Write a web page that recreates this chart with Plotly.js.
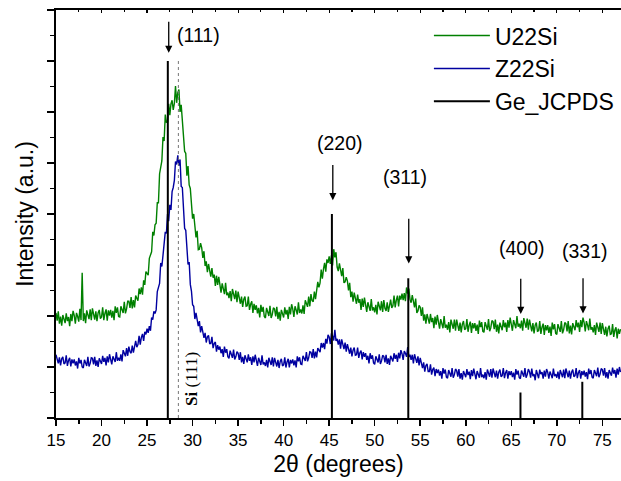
<!DOCTYPE html>
<html>
<head>
<meta charset="utf-8">
<script src="https://cdn.plot.ly/plotly-3.0.1.min.js"></script>
<style>html,body{margin:0;padding:0;background:#fff;}#chart{width:621px;height:481px;}</style>
</head>
<body>
<div id="chart"></div>
<script>
// Scan: 2-theta from 15 to 77 degrees, step 0.125 degrees
const scanStart = 15;
const scanStep = 0.125;

// U22Si intensity (a.u., offset), one row per degree (15 ... 76) + 77
const u22Si = [
2.06,1.91,2.09,1.85,1.99,1.81,2.02,1.92,
1.86,2.05,1.90,1.98,1.80,2.04,1.90,2.10,
2.01,1.85,2.06,1.99,1.89,2.14,1.92,2.85,
1.90,2.05,1.86,2.11,2.02,1.94,2.13,1.92,
2.15,1.99,1.93,2.09,1.90,2.06,2.12,1.95,
1.98,2.17,1.92,2.05,2.13,1.91,2.11,2.01,
2.12,1.97,2.10,1.92,2.19,2.06,2.17,1.99,
1.98,2.19,2.13,2.06,2.28,2.05,2.14,2.29,
2.29,2.16,2.37,2.15,2.31,2.17,2.40,2.34,
2.30,2.54,2.43,2.56,2.42,2.70,2.61,2.87,
2.84,2.80,3.13,3.21,3.26,3.65,3.58,3.79,
3.82,4.22,4.22,4.79,4.93,5.04,5.51,5.43,
5.95,5.80,5.81,6.16,5.94,6.16,6.23,6.04,
6.17,6.51,6.18,6.38,6.44,6.00,6.14,5.79,
5.63,5.23,5.19,4.75,4.94,4.57,4.50,4.07,
3.91,4.00,3.76,3.54,3.67,3.30,3.31,3.43,
3.34,3.14,3.27,2.98,3.07,2.86,3.02,2.88,
2.77,2.94,2.75,2.81,2.59,2.79,2.61,2.77,
2.64,2.46,2.64,2.55,2.43,2.65,2.41,2.46,
2.35,2.49,2.29,2.53,2.42,2.33,2.50,2.27,
2.48,2.31,2.24,2.38,2.18,2.33,2.38,2.19,
2.20,2.38,2.12,2.23,2.29,2.06,2.24,2.12,
2.21,2.05,2.16,1.97,2.22,2.08,2.18,1.99,
1.96,2.16,2.08,2.00,2.20,1.96,2.03,2.16,
2.14,1.99,2.18,1.94,2.08,1.91,2.12,2.03,
1.97,2.17,2.03,2.12,1.94,2.18,2.03,2.23,
2.14,1.98,2.19,2.12,2.03,2.27,2.06,2.13,
2.05,2.21,2.04,2.31,2.24,2.18,2.38,2.19,
2.43,2.30,2.28,2.48,2.33,2.54,2.67,2.56,
2.65,2.91,2.73,2.92,3.04,2.87,3.11,3.04,
3.17,3.02,3.19,2.99,3.31,3.15,3.25,2.96,
2.88,3.03,2.91,2.78,2.94,2.65,2.67,2.76,
2.69,2.50,2.65,2.37,2.48,2.28,2.46,2.33,
2.24,2.42,2.26,2.33,2.12,2.34,2.18,2.36,
2.24,2.08,2.27,2.20,2.10,2.33,2.11,2.17,
2.07,2.22,2.03,2.28,2.19,2.11,2.29,2.08,
2.31,2.15,2.10,2.27,2.08,2.25,2.32,2.16,
2.20,2.40,2.17,2.31,2.40,2.19,2.40,2.32,
2.44,2.31,2.45,2.29,2.56,2.44,2.54,2.33,
2.26,2.41,2.29,2.17,2.34,2.06,2.10,2.21,
2.17,2.00,2.17,1.91,2.03,1.85,2.04,1.93,
1.85,2.04,1.88,1.96,1.76,1.99,1.83,2.02,
1.91,1.75,1.94,1.87,1.76,2.00,1.77,1.83,
1.73,1.88,1.68,1.93,1.83,1.75,1.93,1.71,
1.93,1.77,1.71,1.87,1.68,1.84,1.90,1.73,
1.75,1.94,1.69,1.82,1.89,1.67,1.86,1.76,
1.86,1.71,1.83,1.65,1.91,1.78,1.88,1.70,
1.68,1.88,1.81,1.73,1.94,1.70,1.77,1.91,
1.89,1.74,1.93,1.69,1.83,1.66,1.87,1.78,
1.72,1.92,1.78,1.87,1.69,1.92,1.77,1.97,
1.87,1.71,1.92,1.85,1.76,2.00,1.79,1.85,
1.76,1.91,1.71,1.96,1.86,1.77,1.95,1.73,
1.93,1.77,1.70,1.86,1.66,1.82,1.87,1.70,
1.71,1.90,1.65,1.78,1.85,1.63,1.82,1.72,
1.82,1.67,1.79,1.61,1.87,1.74,1.84,1.66,
1.64,1.84,1.77,1.69,1.90,1.66,1.73,1.87,
1.85,1.70,1.90,1.66,1.81,1.64,1.86,1.77,
1.72,1.92,1.78,1.87,1.69,1.92,1.78,1.97,
1.87,1.70,1.90,1.82,1.72,1.95,1.73,1.78,
1.68,1.82,1.63,1.87,1.78,1.69,1.87,1.65,
1.86,1.70,1.63,1.79,1.60,1.75,1.81,1.64,
1.65,1.84,1.59,1.72,1.78,1.56,1.75,1.65,
1.74];

// Z22Si intensity (a.u., offset), one row per degree (15 ... 76) + 77
const z22Si = [
1.24,1.12,1.07,1.19,1.03,1.16,1.20,1.06,
1.08,1.23,1.02,1.13,1.18,1.01,1.15,1.07,
1.15,1.03,1.11,0.97,1.18,1.07,1.14,1.00,
0.98,1.14,1.09,1.02,1.20,1.01,1.07,1.18,
1.17,1.05,1.20,1.02,1.13,1.00,1.17,1.10,
1.06,1.22,1.10,1.18,1.03,1.21,1.09,1.25,
1.17,1.05,1.21,1.17,1.10,1.29,1.12,1.18,
1.12,1.25,1.11,1.33,1.27,1.21,1.37,1.22,
1.40,1.30,1.27,1.42,1.28,1.44,1.51,1.39,
1.44,1.61,1.44,1.58,1.65,1.51,1.69,1.64,
1.75,1.67,1.80,1.71,1.97,1.93,2.09,2.05,
2.12,2.48,2.56,2.64,3.04,2.97,3.19,3.50,
3.65,3.62,4.00,3.86,4.18,4.08,4.44,4.52,
4.66,5.03,4.97,5.15,4.95,5.07,4.54,4.52,
4.14,3.72,3.68,3.36,3.01,3.06,2.62,2.49,
2.22,2.19,1.94,2.06,1.92,1.80,1.90,1.68,
1.80,1.65,1.57,1.67,1.48,1.59,1.62,1.46,
1.46,1.59,1.37,1.46,1.49,1.30,1.43,1.34,
1.40,1.27,1.35,1.20,1.40,1.28,1.35,1.20,
1.17,1.32,1.26,1.18,1.34,1.15,1.20,1.30,
1.27,1.14,1.29,1.09,1.20,1.06,1.23,1.14,
1.09,1.25,1.12,1.19,1.04,1.21,1.09,1.24,
1.15,1.02,1.18,1.12,1.04,1.23,1.05,1.09,
1.02,1.14,0.99,1.18,1.11,1.04,1.19,1.01,
1.18,1.06,1.01,1.14,0.98,1.11,1.16,1.02,
1.04,1.19,0.99,1.10,1.16,0.99,1.14,1.07,
1.15,1.03,1.13,0.99,1.21,1.11,1.19,1.06,
1.05,1.22,1.18,1.12,1.29,1.11,1.18,1.30,
1.29,1.18,1.35,1.17,1.30,1.19,1.37,1.31,
1.29,1.47,1.38,1.47,1.35,1.55,1.46,1.63,
1.59,1.45,1.66,1.61,1.52,1.73,1.51,1.55,
1.44,1.54,1.36,1.54,1.44,1.35,1.48,1.30,
1.45,1.32,1.26,1.38,1.21,1.33,1.38,1.23,
1.24,1.38,1.18,1.28,1.32,1.15,1.29,1.20,
1.27,1.14,1.22,1.07,1.27,1.16,1.23,1.08,
1.05,1.21,1.16,1.09,1.25,1.06,1.12,1.23,
1.21,1.09,1.24,1.06,1.17,1.04,1.22,1.14,
1.11,1.27,1.16,1.24,1.10,1.28,1.17,1.33,
1.26,1.14,1.31,1.27,1.20,1.39,1.20,1.24,
1.14,1.24,1.07,1.25,1.17,1.08,1.21,1.03,
1.18,1.04,0.98,1.09,0.91,1.03,1.06,0.91,
0.91,1.05,0.85,0.95,0.99,0.82,0.96,0.88,
0.95,0.83,0.92,0.77,0.98,0.87,0.95,0.80,
0.78,0.94,0.89,0.81,0.98,0.79,0.85,0.96,
0.93,0.81,0.96,0.77,0.88,0.75,0.92,0.84,
0.80,0.96,0.84,0.91,0.76,0.94,0.82,0.97,
0.89,0.76,0.92,0.87,0.79,0.98,0.80,0.85,
0.78,0.90,0.75,0.95,0.88,0.81,0.96,0.79,
0.97,0.85,0.80,0.93,0.77,0.90,0.95,0.81,
0.83,0.98,0.78,0.89,0.94,0.77,0.92,0.84,
0.92,0.80,0.89,0.75,0.96,0.85,0.93,0.79,
0.77,0.93,0.88,0.81,0.98,0.79,0.85,0.96,
0.91,0.79,0.97,0.82,0.86,0.74,0.94,0.83,
0.78,0.95,0.86,0.90,0.77,0.93,0.81,0.96,
0.90,0.77,0.91,0.85,0.78,0.97,0.82,0.86,
0.79,0.91,0.76,0.94,0.87,0.80,0.95,0.78,
0.97,0.85,0.80,0.93,0.77,0.90,0.95,0.81,
0.83,0.98,0.78,0.89,0.94,0.77,0.92,0.84,
0.93,0.81,0.90,0.76,0.97,0.86,0.94,0.80,
0.78,0.94,0.89,0.82,0.99,0.80,0.86,0.97,
0.95,0.83,0.98,0.79,0.90,0.77,0.94,0.86,
0.83,0.99,0.87,0.94,0.79,0.97,0.85,1.00,
0.90];

// Ge JCPDS reference lines
const geAngles = [27.28, 45.30, 53.69, 66.01, 72.80];
const geHeights = [7.0, 4.0, 2.74, 0.5, 0.71];
const geLabels = ["(111)", "(220)", "(311)", "(400)", "(331)"];

// Si (111) reference
const siAngle = [28.44];
const siHeight = [7.0];

// Peak label placement (arrow tip / tail, label position)
const arrowTipY = [7.16, 4.27, 3.03, 2.04, 2.05];
const arrowTailY = [7.80, 4.99, 3.935, 2.76, 2.77];
const arrowX = [27.38, 45.40, 53.74, 66.04, 72.88];
const labelX = [28.07, 46.14, 53.33, 66.13, 73.07];
const labelY = [7.51, 5.40, 4.72, 3.33, 3.28];

const FONT = 'Arial, "Liberation Sans", sans-serif';

const stickX = [], stickY = [];
geAngles.forEach((a, i) => { stickX.push(a, a, null); stickY.push(0, geHeights[i], null); });

const traces = [
  {y: u22Si, x0: scanStart, dx: scanStep, type: 'scatter', mode: 'lines', name: 'U22Si',
   line: {color: '#008000', width: 1.4}},
  {y: z22Si, x0: scanStart, dx: scanStep, type: 'scatter', mode: 'lines', name: 'Z22Si',
   line: {color: '#0000a0', width: 1.4}},
  {x: stickX, y: stickY, type: 'scatter', mode: 'lines', name: 'Ge_JCPDS',
   line: {color: '#000000', width: 2}},
  {x: [siAngle[0], siAngle[0]], y: [0, siHeight[0]], type: 'scatter', mode: 'lines',
   showlegend: false, xaxis: 'x2', line: {color: '#777777', width: 1, dash: 'dot'}}
];

const annotations = [];
geLabels.forEach((lab, i) => {
  annotations.push({x: arrowX[i], y: arrowTipY[i], ax: arrowX[i], ay: arrowTailY[i],
    xref: 'x', yref: 'y', axref: 'x', ayref: 'y', text: '', showarrow: true,
    arrowhead: 2, arrowsize: 1.1, arrowwidth: 1.3, arrowcolor: '#000'});
  annotations.push({x: labelX[i], y: labelY[i], xref: 'x', yref: 'y', text: lab,
    showarrow: false, xanchor: i === 0 ? 'left' : 'center', yanchor: 'middle',
    font: {family: FONT, size: 19.5, color: '#000'}});
});
annotations.push({x: 29.9, y: 0.76, xref: 'x', yref: 'y', text: '<b>Si</b> (111)',
  showarrow: false, textangle: -90, xanchor: 'center', yanchor: 'middle',
  font: {family: '"Liberation Serif", "Times New Roman", serif', size: 17, color: '#000'}});

const layout = {
  width: 621, height: 481,
  margin: {l: 56, r: 0, t: 10, b: 63},
  paper_bgcolor: '#fff', plot_bgcolor: '#fff',
  showlegend: true,
  legend: {x: 0.66, xanchor: 'left', y: 0.99, yanchor: 'top', bgcolor: 'rgba(0,0,0,0)',
    font: {family: FONT, size: 23, color: '#000'}, itemwidth: 56, tracegroupgap: 0},
  xaxis: {range: [15, 77.05], tick0: 15, dtick: 5, ticks: 'outside', ticklen: 6, tickwidth: 1.5,
    tickcolor: '#000', showline: true, linecolor: '#000', linewidth: 2, mirror: true,
    showgrid: false, zeroline: false, tickfont: {family: FONT, size: 17, color: '#000'},
    minor: {dtick: 2.5, ticks: 'outside', ticklen: 4, tickwidth: 1.5, tickcolor: '#000', showgrid: false},
    title: {text: '2θ (degrees)', font: {family: FONT, size: 23, color: '#000'}, standoff: 6}},
  xaxis2: {range: [15, 77.05], overlaying: 'x', side: 'top', tick0: 15, dtick: 5, ticks: 'inside',
    ticklen: 3, tickwidth: 1.2, tickcolor: '#000', showticklabels: false, showgrid: false,
    zeroline: false, showline: false,
    minor: {dtick: 2.5, ticks: 'inside', ticklen: 2, tickwidth: 1.2, tickcolor: '#000', showgrid: false}},
  yaxis: {range: [0, 8], tick0: 0, dtick: 1, ticks: 'outside', ticklen: 7, tickwidth: 1.5,
    tickcolor: '#000', showline: true, linecolor: '#000', linewidth: 2, showticklabels: false,
    showgrid: false, zeroline: false,
    minor: {dtick: 0.5, ticks: 'outside', ticklen: 4, tickwidth: 1.5, tickcolor: '#000', showgrid: false},
    title: {text: 'Intensity (a.u.)', font: {family: FONT, size: 23, color: '#000'}, standoff: 7}},
  annotations: annotations
};

Plotly.newPlot('chart', traces, layout, {displayModeBar: false, staticPlot: true});
</script>
</body>
</html>
